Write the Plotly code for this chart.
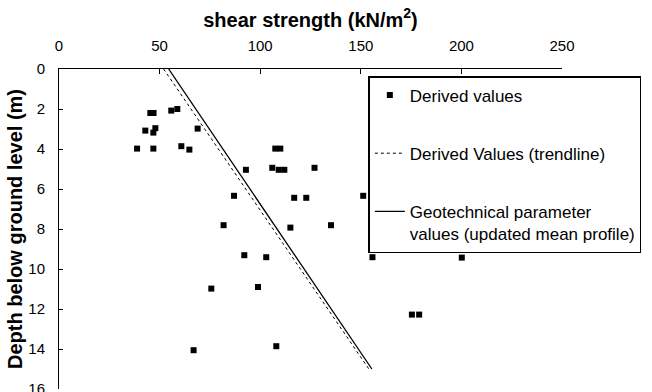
import plotly.graph_objects as go

# Derived values: shear strength (kN/m2) vs depth (m)
strength = [45.4, 47.0, 55.8, 58.8, 42.9, 47.9, 46.9, 68.9, 38.8, 46.9, 60.8, 64.8,
            107.5, 110.0, 92.9, 106.0, 109.2, 112.0, 127.0, 87.0, 116.9, 122.9, 151.2,
            81.8, 115.0, 135.2, 92.1, 103.0, 155.8, 200.2, 175.4, 179.0,
            75.7, 98.9, 66.9, 108.0]
depth = [2.2, 2.2, 2.08, 2.0, 3.08, 2.96, 3.18, 2.98, 3.98, 3.98, 3.86, 4.03,
         3.98, 3.98, 5.04, 4.94, 5.04, 5.04, 4.94, 6.34, 6.44, 6.44, 6.34,
         7.81, 7.93, 7.81, 9.31, 9.41, 9.41, 9.43, 12.28, 12.28,
         10.98, 10.9, 14.06, 13.86]

# Trendline of derived values and updated mean profile (end points)
trend_depth = [0, 15]
trend_strength = [52.0, 154.0]
mean_depth = [0, 15]
mean_strength = [54.5, 155.5]

x_ticks = [0, 50, 100, 150, 200, 250]
y_ticks = [0, 2, 4, 6, 8, 10, 12, 14, 16]

FONT = "Liberation Sans, Arial, sans-serif"

fig = go.Figure()
fig.add_trace(go.Scatter(
    x=strength, y=depth, mode="markers", name="Derived values",
    marker=dict(symbol="square", size=6, color="black"),
    legendgroup="a"))
fig.add_trace(go.Scatter(
    x=trend_strength, y=trend_depth, mode="lines", name="Derived Values (trendline)",
    line=dict(color="black", width=1, dash="dot"), legendgroup="b"))
fig.add_trace(go.Scatter(
    x=mean_strength, y=mean_depth, mode="lines",
    name="Geotechnical parameter<br>values (updated mean profile)",
    line=dict(color="black", width=1.3), legendgroup="c"))

fig.update_layout(
    width=652, height=392,
    margin=dict(l=59, r=90, t=69, b=3, autoexpand=False),
    paper_bgcolor="white", plot_bgcolor="white",
    font=dict(family=FONT, size=15, color="black"),
    legend=dict(
        x=0.615, y=0.978, xanchor="left", yanchor="top",
        bordercolor="black", borderwidth=1.5, bgcolor="rgba(255,255,255,0)",
        font=dict(size=17), tracegroupgap=33, valign="top",
    ),
    xaxis=dict(
        side="top", range=[0, 250], tickvals=x_ticks,
        ticks="inside", ticklen=5, tickcolor="black",
        showline=True, linecolor="black", linewidth=1,
        showgrid=False, zeroline=False, ticklabelstandoff=11,
        automargin=False,
        title=dict(text="<b>shear strength (kN/m<sup>2</sup>)</b>",
                   font=dict(size=20), standoff=4),
    ),
    yaxis=dict(
        range=[16, 0], tickvals=y_ticks,
        ticks="inside", ticklen=4, tickcolor="black",
        showline=True, linecolor="black", linewidth=1,
        showgrid=False, zeroline=False, ticklabelstandoff=10,
        ticklabeloverflow="allow", automargin=False,
        title=dict(text="<b>Depth below ground level (m)</b>",
                   font=dict(size=20), standoff=0),
    ),
)

fig.write_html("out.html")
